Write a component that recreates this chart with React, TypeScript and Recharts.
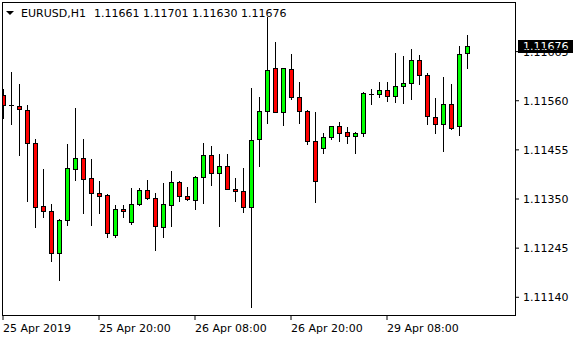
import { ComposedChart, Bar, XAxis, YAxis, ReferenceLine } from "recharts";

// EURUSD H1, 59 bars, 25 Apr 08:00 -> 29 Apr 18:00
const opens = [
	1.11572, 1.11551, 1.11548, 1.11541, 1.1147, 1.11334, 1.11325, 1.11235, 1.11306, 1.11415,
	1.11437, 1.11394, 1.11363, 1.11358, 1.11273, 1.11329, 1.11301, 1.1134, 1.1137, 1.11353,
	1.11291, 1.11338, 1.11387, 1.11357, 1.11348, 1.11398, 1.11443, 1.11406, 1.11421, 1.11372,
	1.11368, 1.11333, 1.11478, 1.11539, 1.11629, 1.11537, 1.11627, 1.11567, 1.11539, 1.11475,
	1.1146, 1.11483, 1.11507, 1.11494, 1.11485, 1.1149, 1.11575, 1.11575, 1.11584, 1.11571,
	1.11592, 1.11597, 1.11646, 1.11616, 1.11526, 1.11511, 1.11552, 1.11505, 1.11661,
];
const highs = [
	1.11586, 1.11622, 1.11595, 1.1155, 1.11479, 1.11415, 1.1134, 1.11308, 1.11467, 1.11544,
	1.11478, 1.11435, 1.11388, 1.11361, 1.11338, 1.11338, 1.11373, 1.11374, 1.11391, 1.11363,
	1.11385, 1.1141, 1.11388, 1.11376, 1.114, 1.1147, 1.11464, 1.11446, 1.11446, 1.11395,
	1.11417, 1.11588, 1.11569, 1.11738, 1.11685, 1.11631, 1.11659, 1.11599, 1.1154, 1.11535,
	1.11492, 1.11507, 1.11515, 1.11503, 1.11494, 1.11578, 1.11586, 1.11599, 1.11601, 1.11661,
	1.11655, 1.1167, 1.11657, 1.1162, 1.11565, 1.1161, 1.11595, 1.11676, 1.11701,
];
const lows = [
	1.11523, 1.11511, 1.11444, 1.11345, 1.1129, 1.11311, 1.11217, 1.11176, 1.11294, 1.1139,
	1.1132, 1.11294, 1.1132, 1.11268, 1.11268, 1.11311, 1.11297, 1.11337, 1.1135, 1.11241,
	1.11268, 1.11292, 1.11346, 1.11348, 1.11328, 1.11342, 1.1138, 1.11292, 1.11371, 1.11346,
	1.11322, 1.11119, 1.11421, 1.11513, 1.11536, 1.11508, 1.11563, 1.11513, 1.11468, 1.11344,
	1.11449, 1.11479, 1.11475, 1.1147, 1.11449, 1.11485, 1.11554, 1.11567, 1.1156, 1.11558,
	1.11556, 1.11563, 1.11595, 1.11511, 1.11492, 1.11453, 1.115, 1.11487, 1.1163,
];
const closes = [
	1.11551, 1.11551, 1.11542, 1.1147, 1.11333, 1.11324, 1.11235, 1.11306, 1.11417, 1.11437,
	1.11393, 1.11363, 1.11357, 1.11277, 1.11329, 1.11324, 1.1134, 1.1137, 1.11352, 1.11293,
	1.1134, 1.11387, 1.11357, 1.1135, 1.11398, 1.11443, 1.11406, 1.11421, 1.11372, 1.11368,
	1.11333, 1.11477, 1.11539, 1.11625, 1.11537, 1.11629, 1.11567, 1.11539, 1.11475, 1.11389,
	1.11483, 1.11505, 1.11492, 1.11485, 1.1149, 1.11577, 1.11575, 1.11582, 1.11571, 1.11592,
	1.11597, 1.11648, 1.11616, 1.11528, 1.11511, 1.11554, 1.11502, 1.11659, 1.11676,
];

const timeTicks = [0, 12, 24, 36, 48];
const timeLabels = ["25 Apr 2019", "25 Apr 20:00", "26 Apr 08:00", "26 Apr 20:00", "29 Apr 08:00"];
const priceTicks = [1.1114, 1.11245, 1.1135, 1.11455, 1.1156, 1.11665];

const data = opens.map((o, i) => ({
	i,
	open: o,
	high: highs[i],
	low: lows[i],
	close: closes[i],
	range: [lows[i], highs[i]],
}));

const last = data[data.length - 1];
const FONT = "DejaVu Sans";

function Candle(props: any) {
	const { x, y, width, height, payload } = props;
	const { open, high, low, close } = payload;
	const top = Math.min(y, y + height);
	const h = Math.abs(height);
	const cx = Math.round(x + width / 2) + 0.5;
	const py = (v: number) => top + ((high - v) / (high - low)) * h;
	const yHi = Math.round(py(high));
	const yLo = Math.round(py(low));
	const bTop = Math.round(py(Math.max(open, close))) + 0.5;
	const bBot = Math.round(py(Math.min(open, close))) + 0.5;
	return (
		<g>
			<line x1={cx} x2={cx} y1={yHi} y2={yLo + 1} stroke='#000' strokeWidth={1} />
			{open === close ? (
				<line x1={cx - 2.5} x2={cx + 2.5} y1={bTop} y2={bTop} stroke='#000' strokeWidth={1} />
			) : (
				<rect
					x={cx - 2}
					y={bTop}
					width={4}
					height={Math.max(bBot - bTop, 1)}
					fill={close > open ? "#00ff00" : "#ff0000"}
					stroke='#000'
					strokeWidth={1}
				/>
			)}
		</g>
	);
}

function TimeTick(props: any) {
	const { x, y, payload } = props;
	const label = timeLabels[timeTicks.indexOf(payload.value)];
	return (
		<text x={x} y={y} dy='0.71em' textAnchor='start' fontFamily={FONT} fontSize={11} fill='#000'>
			{label}
		</text>
	);
}

function PriceTag(props: any) {
	const { viewBox } = props;
	if (!viewBox) return null;
	const left = viewBox.x + viewBox.width + 3;
	const cy = viewBox.y;
	return (
		<g>
			<rect x={left} y={Math.round(cy - 6.5)} width={55} height={13} fill='#000' />
			<text x={left + 5} y={cy} dy='0.355em' fontFamily={FONT} fontSize={11} fill='#fff'>
				{last.close.toFixed(5)}
			</text>
		</g>
	);
}

export default function App() {
	return (
		<div style={{ position: "relative", width: 580, height: 340, background: "#fff" }}>
			<style>{"body{margin:0}"}</style>
			<ComposedChart
				width={580}
				height={340}
				data={data}
				margin={{ top: 2, right: 0, bottom: 0, left: -1 }}>
				<XAxis
					dataKey='i'
					type='category'
					ticks={timeTicks}
					interval={0}
					tick={<TimeTick />}
					tickSize={4}
					tickMargin={4}
					axisLine={false}
					tickLine={{ stroke: "#000" }}
					padding={{ left: 0, right: 44 }}
					height={24}
				/>
				<YAxis
					orientation='right'
					type='number'
					domain={[1.111, 1.11771]}
					allowDataOverflow
					ticks={priceTicks}
					interval={0}
					tickFormatter={(v: number) => v.toFixed(5)}
					tick={{ fontFamily: FONT, fontSize: 11, fill: "#000" }}
					tickSize={4}
					tickMargin={4}
					axisLine={false}
					tickLine={{ stroke: "#000" }}
					width={65}
				/>
				<Bar dataKey='range' shape={<Candle />} isAnimationActive={false} />
				<ReferenceLine y={last.close} stroke='none' ifOverflow='visible' label={<PriceTag />} />
			</ComposedChart>
			<svg
				width={580}
				height={340}
				style={{ position: "absolute", left: 0, top: 0, pointerEvents: "none" }}>
				<rect x={0} y={0} width={2} height={318} fill='#fff' />
				<rect x={2.5} y={2.5} width={513} height={313} fill='none' stroke='#000' strokeWidth={1} />
				<polygon points='6,11 14,11 10,15' fill='#000' />
				<text x={21} y={17} fontFamily={FONT} fontSize={11} fill='#000'>
					EURUSD,H1
				</text>
				<text x={94} y={17} fontFamily={FONT} fontSize={11} fill='#000'>
					{[last.open, last.high, last.low, last.close].map((v) => v.toFixed(5)).join(" ")}
				</text>
			</svg>
		</div>
	);
}
